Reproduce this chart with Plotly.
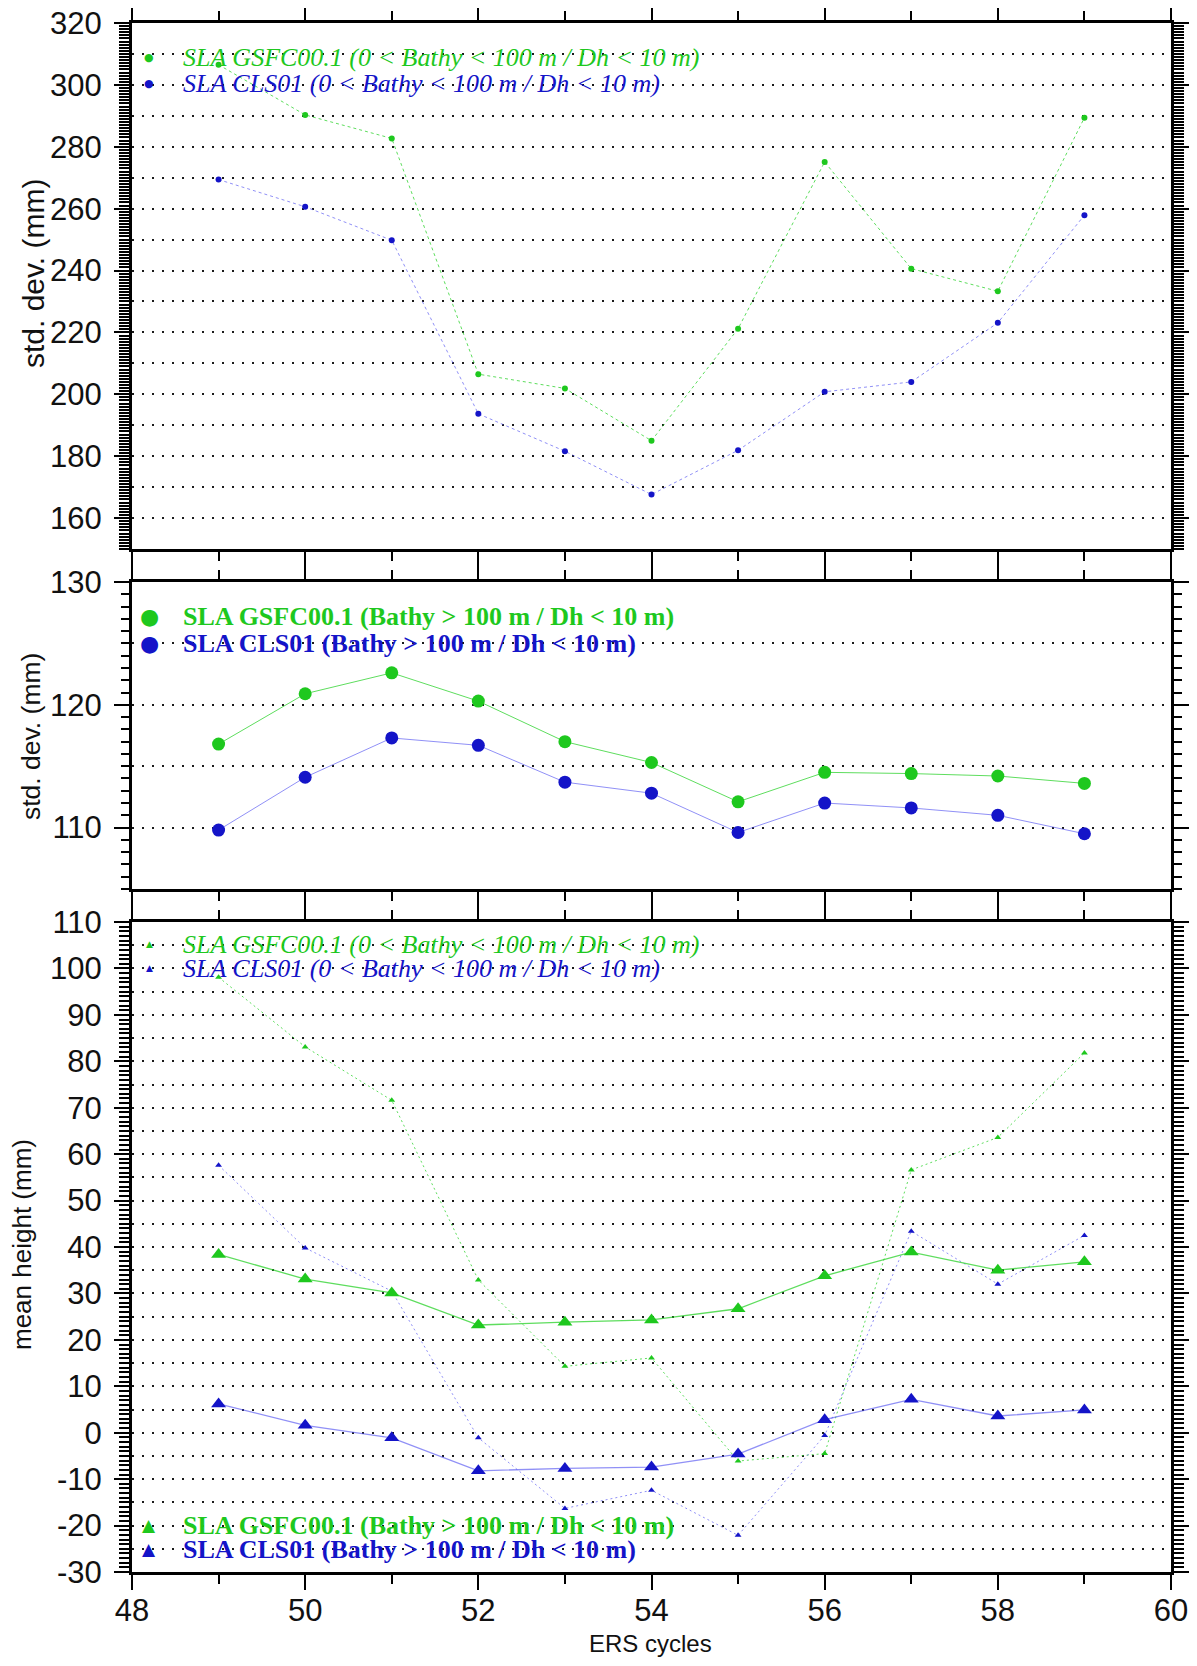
import plotly.graph_objects as go

# ---------------- data ----------------
cycles = [49, 50, 51, 52, 53, 54, 55, 56, 57, 58, 59]

# panel 1: std. dev. (mm), 0 < Bathy < 100 m
std_shelf_gsfc = [306.5, 290.3, 282.7, 206.5, 201.9, 185.0, 221.2, 275.1, 240.6, 233.3, 289.4]
std_shelf_cls = [269.4, 260.6, 249.8, 193.7, 181.6, 167.6, 181.9, 200.8, 204.0, 223.1, 257.9]

# panel 2: std. dev. (mm), Bathy > 100 m
std_deep_gsfc = [116.8, 120.9, 122.6, 120.3, 117.0, 115.3, 112.1, 114.5, 114.4, 114.2, 113.6]
std_deep_cls = [109.8, 114.1, 117.3, 116.7, 113.7, 112.8, 109.6, 112.0, 111.6, 111.0, 109.5]

# panel 3: mean height (mm)
mean_shelf_gsfc = [98.1, 83.1, 71.6, 32.9, 14.3, 16.1, -6.1, -4.5, 56.6, 63.6, 81.8]
mean_shelf_cls = [57.6, 39.8, 30.5, -1.1, -16.3, -12.4, -22.1, -0.6, 43.4, 32.0, 42.5]
mean_deep_gsfc = [38.4, 33.1, 30.1, 23.2, 23.8, 24.3, 26.7, 33.8, 38.9, 35.0, 36.8]
mean_deep_cls = [6.2, 1.6, -1.1, -8.2, -7.7, -7.4, -4.6, 2.8, 7.2, 3.6, 4.9]

y1_labels = [160, 180, 200, 220, 240, 260, 280, 300, 320]
y2_labels = [110, 120, 130]
y3_labels = [-30, -20, -10, 0, 10, 20, 30, 40, 50, 60, 70, 80, 90, 100, 110]
x_labels = [48, 50, 52, 54, 56, 58, 60]

y1_grid = [160, 170, 180, 190, 200, 210, 220, 230, 240, 250, 260, 270, 280, 290, 300, 310]
y2_grid = [110, 115, 120, 125]
y3_grid = [-25, -20, -15, -10, -5, 0, 5, 10, 15, 20, 25, 30, 35, 40, 45, 50, 55, 60,
           65, 70, 75, 80, 85, 90, 95, 100, 105]

lbl_shelf_gsfc = "SLA GSFC00.1 (0 < Bathy < 100 m / Dh < 10 m)"
lbl_shelf_cls = "SLA CLS01 (0 < Bathy < 100 m / Dh < 10 m)"
lbl_deep_gsfc = "SLA GSFC00.1 (Bathy > 100 m / Dh < 10 m)"
lbl_deep_cls = "SLA CLS01 (Bathy > 100 m / Dh < 10 m)"

# ---------------- style ----------------
GREEN = "#1ec81e"
BLUE = "#1414c8"
GREEN_L = "rgba(40,210,40,0.75)"
BLUE_L = "rgba(70,70,240,0.6)"

# page has an 8px body margin: the figure is sized/offset to compensate
PAGE_OFF = 8
W, H = 1197 - 2 * PAGE_OFF, 1666 - 2 * PAGE_OFF
ML, MR, MT, MB = 124, 18, 15, 86


def px_x(X):
    # X in reference (window) pixels
    return (X - PAGE_OFF - ML) / (W - ML - MR)


def px_y(Y):
    return 1 - (Y - PAGE_OFF - MT) / (H - MT - MB)


dom1 = [px_y(549), 1.0]
dom2 = [px_y(889), px_y(582)]
dom3 = [0.0, px_y(922)]

fig = go.Figure()

# empty helper traces so the grid-only overlay axes are instantiated
for ya in ["y4", "y5", "y6"]:
    xa = {"y4": "x", "y5": "x2", "y6": "x3"}[ya]
    fig.add_trace(go.Scatter(x=[], y=[], xaxis=xa, yaxis=ya, hoverinfo="skip",
                             showlegend=False))

# panel 1
fig.add_trace(go.Scatter(x=cycles, y=std_shelf_gsfc, mode="lines+markers",
                         line=dict(color=GREEN_L, width=1, dash="3px,3px"),
                         marker=dict(color=GREEN, size=6), xaxis="x", yaxis="y"))
fig.add_trace(go.Scatter(x=cycles, y=std_shelf_cls, mode="lines+markers",
                         line=dict(color=BLUE_L, width=1, dash="3px,3px"),
                         marker=dict(color=BLUE, size=6), xaxis="x", yaxis="y"))
# panel 2
fig.add_trace(go.Scatter(x=cycles, y=std_deep_gsfc, mode="lines+markers",
                         line=dict(color=GREEN_L, width=1),
                         marker=dict(color=GREEN, size=13), xaxis="x2", yaxis="y2"))
fig.add_trace(go.Scatter(x=cycles, y=std_deep_cls, mode="lines+markers",
                         line=dict(color=BLUE_L, width=1),
                         marker=dict(color=BLUE, size=13), xaxis="x2", yaxis="y2"))
# panel 3
fig.add_trace(go.Scatter(x=cycles, y=mean_shelf_gsfc, mode="lines+markers",
                         line=dict(color=GREEN_L, width=1, dash="2px,3px"),
                         marker=dict(color=GREEN, size=6, symbol="triangle-up"),
                         xaxis="x3", yaxis="y3"))
fig.add_trace(go.Scatter(x=cycles, y=mean_shelf_cls, mode="lines+markers",
                         line=dict(color=BLUE_L, width=1, dash="2px,3px"),
                         marker=dict(color=BLUE, size=6, symbol="triangle-up"),
                         xaxis="x3", yaxis="y3"))
fig.add_trace(go.Scatter(x=cycles, y=mean_deep_gsfc, mode="lines+markers",
                         line=dict(color=GREEN_L, width=1.3),
                         marker=dict(color=GREEN, size=13, symbol="triangle-up"),
                         xaxis="x3", yaxis="y3"))
fig.add_trace(go.Scatter(x=cycles, y=mean_deep_cls, mode="lines+markers",
                         line=dict(color=BLUE_L, width=1.3),
                         marker=dict(color=BLUE, size=13, symbol="triangle-up"),
                         xaxis="x3", yaxis="y3"))

TICKFONT = dict(family="Liberation Sans, Arial, sans-serif", size=31, color="#111")


def xaxis(anchor, labels_on):
    return dict(domain=[0, 1], anchor=anchor, range=[48, 60], automargin=False,
                tickvals=x_labels, ticktext=[str(v) for v in x_labels],
                showticklabels=labels_on, ticks="outside", ticklen=15, tickwidth=1.5,
                tickcolor="black", showline=True, linewidth=3, linecolor="black",
                mirror="ticks", showgrid=False, zeroline=False, tickfont=TICKFONT,
                ticklabelstandoff=-6, ticklabeloverflow="allow",
                minor=dict(dtick=1, tick0=48, ticks="outside", ticklen=9, tickwidth=1.5,
                           tickcolor="black", showgrid=False))


def yaxis(anchor, dom, rng, labels, minor_dt, mwidth, mlen):
    return dict(domain=dom, anchor=anchor, range=rng, automargin=False,
                tickvals=labels, ticktext=[str(v) for v in labels],
                ticks="outside", ticklen=15, tickwidth=1.5, tickcolor="black",
                showline=True, linewidth=3, linecolor="black", mirror="ticks",
                showgrid=False, zeroline=False, tickfont=TICKFONT, ticklabelstandoff=6,
                ticklabeloverflow="allow",
                minor=dict(dtick=minor_dt, tick0=0, ticks="outside", ticklen=mlen,
                           tickwidth=mwidth, tickcolor="black", showgrid=False))


def gridaxis(over, xa, dom, rng, grid_vals):
    return dict(domain=dom, anchor=xa, overlaying=over, range=rng, side="left",
                automargin=False,
                tickvals=grid_vals, showticklabels=False, ticks="", showline=False,
                zeroline=False, showgrid=True, gridcolor="#1a1a1a", gridwidth=2,
                griddash="2px,8px")


fig.update_layout(
    width=W, height=H,
    margin=dict(l=ML, r=MR, t=MT, b=MB, autoexpand=False),
    paper_bgcolor="white", plot_bgcolor="white",
    showlegend=False,
    xaxis=xaxis("y", False),
    xaxis2=xaxis("y2", False),
    xaxis3=xaxis("y3", True),
    yaxis=yaxis("x", dom1, [150, 320], y1_labels, 1, 1.8, 10),
    yaxis2=yaxis("x2", dom2, [105, 130], y2_labels, 1, 1.6, 8),
    yaxis3=yaxis("x3", dom3, [-30, 110], y3_labels, 1, 1.8, 10),
    yaxis4=gridaxis("y", "x", dom1, [150, 320], y1_grid),
    yaxis5=gridaxis("y2", "x2", dom2, [105, 130], y2_grid),
    yaxis6=gridaxis("y3", "x3", dom3, [-30, 110], y3_grid),
)

annotations = []
for txt, X, Y, fs in [("std. dev. (mm)", 33, 274, 30), ("std. dev. (mm)", 31, 737, 26.5),
                      ("mean height (mm)", 22, 1245, 26)]:
    annotations.append(dict(text=txt, xref="paper", yref="paper", x=px_x(X), y=px_y(Y),
                            xanchor="center", yanchor="middle", textangle=-90,
                            showarrow=False,
                            font=dict(family="Liberation Sans, Arial, sans-serif",
                                      size=fs, color="#111")))
annotations.append(dict(text="ERS cycles", xref="paper", yref="paper", x=px_x(650),
                        y=px_y(1643), xanchor="center", yanchor="middle",
                        showarrow=False,
                        font=dict(family="Liberation Sans, Arial, sans-serif",
                                  size=24, color="#111")))

SERIF = "Liberation Serif, Times New Roman, serif"
legend_items = [
    # (marker, marker size, label, color, y pixel, italic)
    ("●", 11, lbl_shelf_gsfc, GREEN, 58, True),
    ("●", 11, lbl_shelf_cls, BLUE, 84, True),
    ("●", 22, lbl_deep_gsfc, GREEN, 616, False),
    ("●", 22, lbl_deep_cls, BLUE, 643, False),
    ("▲", 9, lbl_shelf_gsfc, GREEN, 944, True),
    ("▲", 9, lbl_shelf_cls, BLUE, 968, True),
    ("▲", 17, lbl_deep_gsfc, GREEN, 1525, False),
    ("▲", 17, lbl_deep_cls, BLUE, 1549, False),
]
for mk, msz, lbl, col, Y, ital in legend_items:
    annotations.append(dict(text=mk, xref="paper", yref="paper", x=px_x(149), y=px_y(Y),
                            xanchor="center", yanchor="middle", showarrow=False,
                            font=dict(family="DejaVu Sans", size=msz, color=col)))
    t = "<i>%s</i>" % lbl if ital else "<b>%s</b>" % lbl
    annotations.append(dict(text=t, xref="paper", yref="paper", x=px_x(181), y=px_y(Y),
                            xanchor="left", yanchor="middle", showarrow=False,
                            font=dict(family=SERIF, size=26, color=col)))

fig.update_layout(annotations=annotations)

fig.write_html("out.html")
